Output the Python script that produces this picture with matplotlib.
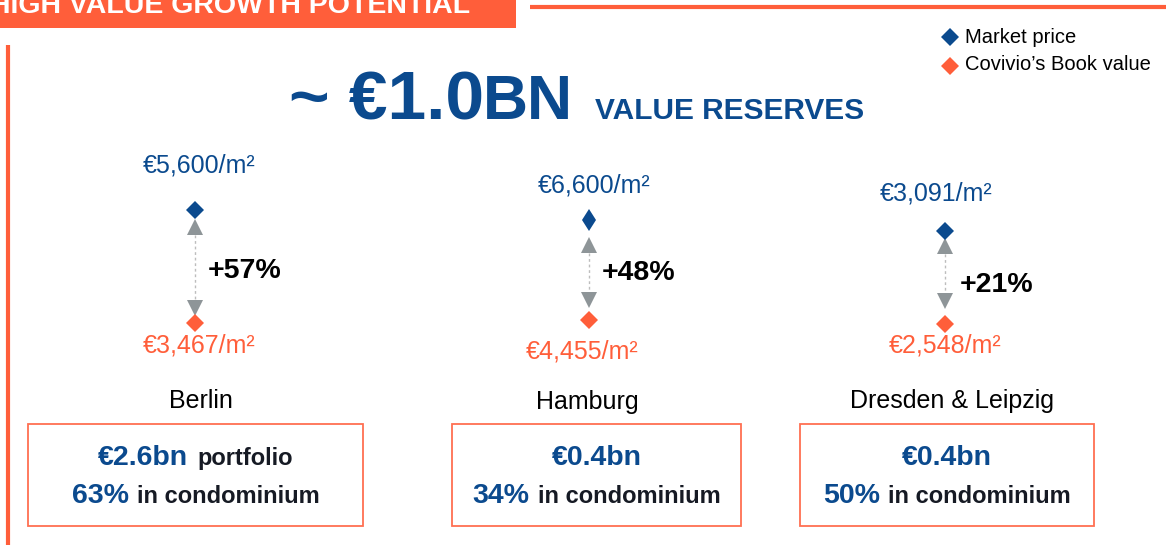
import matplotlib
matplotlib.use("Agg")
import matplotlib.pyplot as plt
from matplotlib.patches import Rectangle

plt.rcParams['font.family'] = ['Liberation Sans', 'DejaVu Sans']

# data
cities = ["Berlin", "Hamburg", "Dresden & Leipzig"]
market_price = [5600, 6600, 3091]      # EUR/m2
book_value = [3467, 4455, 2548]        # EUR/m2
uplift = [57, 48, 21]                  # %
portfolio_bn = [2.6, 0.4, 0.4]
condo_share = [63, 34, 50]             # %
value_reserve_bn = 1.0

# colours
BLUE = '#0B4A8E'
ORANGE = '#FF5E3A'
GREY = '#8E9598'
DARK = '#161A24'

# layout (pixels, y down)
mark_x = [195, 589, 945]
mp_y = [210, 220, 231]           # market price marker
bv_y = [323, 320, 324]           # book value marker
up_y = [227, 244.5, 245.5]       # up triangle
dn_y = [307.5, 299.5, 300.5]     # down triangle
mp_lbl = [(199, 173), (594, 193), (936, 200)]
bv_lbl = [(199, 353), (582, 359), (945, 352)]
pct_lbl = [(208, 278), (602, 280), (960, 292)]
city_lbl = [(201, 408), (587, 409), (952, 408)]
boxes = [(28, 363), (452, 741), (800, 1094)]
box_top, box_bot = 424, 526

fig = plt.figure(figsize=(11.66, 5.45), dpi=100)
ax = fig.add_axes([0, 0, 1, 1])
ax.set_xlim(0, 1166)
ax.set_ylim(545, 0)
ax.axis('off')

# header band
ax.add_patch(Rectangle((0, 0), 516, 28, color=ORANGE, lw=0))
ax.text(470, 13, "HIGH VALUE GROWTH POTENTIAL", fontsize=20.5, fontweight='bold',
        color='white', ha='right', va='baseline')
ax.plot([530, 1166], [7, 7], color=ORANGE, lw=3, solid_capstyle='butt')
ax.plot([7.5, 7.5], [45, 545], color=ORANGE, lw=3, solid_capstyle='butt')

# legend
ax.plot(950, 37, marker='D', ms=9, color=BLUE, mew=0)
ax.plot(950, 66, marker='D', ms=9, color=ORANGE, mew=0)
ax.text(965, 43, "Market price", fontsize=14.5, color='black', va='baseline')
ax.text(965, 70, "Covivio\u2019s Book value", fontsize=14.5, color='black', va='baseline')

# headline
ax.text(289, 119, "~ \u20ac%.1f" % value_reserve_bn, fontsize=50, fontweight='bold',
        color=BLUE, va='baseline')
ax.text(483, 119, "BN", fontsize=45, fontweight='bold', color=BLUE, va='baseline')
ax.text(595, 119, "VALUE RESERVES", fontsize=21.5, fontweight='bold', color=BLUE, va='baseline')

# market vs book value per city
for i in range(len(cities)):
    x = mark_x[i]
    ax.plot([x, x], [up_y[i] + 8, dn_y[i] - 8], color='#BDBDBD', lw=1,
            linestyle=(0, (2, 2)))
    ax.plot(x, up_y[i], marker='^', ms=12, color=GREY, mew=0)
    ax.plot(x, dn_y[i], marker='v', ms=12, color=GREY, mew=0)
    if i == 1:
        ax.plot(x, mp_y[i], marker='d', ms=11.5, color=BLUE, mew=0)
    else:
        ax.plot(x, mp_y[i], marker='D', ms=9, color=BLUE, mew=0)
    ax.plot(x, bv_y[i], marker='D', ms=9, color=ORANGE, mew=0)

    ax.text(mp_lbl[i][0], mp_lbl[i][1], "\u20ac{:,}/m\u00b2".format(market_price[i]),
            fontsize=18, color=BLUE, ha='center', va='baseline')
    ax.text(bv_lbl[i][0], bv_lbl[i][1], "\u20ac{:,}/m\u00b2".format(book_value[i]),
            fontsize=18, color=ORANGE, ha='center', va='baseline')
    ax.text(pct_lbl[i][0], pct_lbl[i][1], "+%d%%" % uplift[i], fontsize=20.5,
            fontweight='bold', color='black', ha='left', va='baseline')
    ax.text(city_lbl[i][0], city_lbl[i][1], cities[i], fontsize=18, color='black',
            ha='center', va='baseline')

    x0, x1 = boxes[i]
    ax.add_patch(Rectangle((x0, box_top), x1 - x0, box_bot - box_top, fill=False,
                           edgecolor='#FF6F52', lw=1.3))

renderer = fig.canvas.get_renderer()


def mixed_line(cx, y, parts, gap=8):
    # parts: list of (text, fontsize, colour), centred as one line
    texts = [ax.text(0, y, s, fontsize=fs, color=c, fontweight='bold', ha='left',
                     va='baseline') for s, fs, c in parts]
    widths = [t.get_window_extent(renderer).width for t in texts]
    xpos = cx - (sum(widths) + gap * (len(texts) - 1)) / 2
    for t, w in zip(texts, widths):
        t.set_x(xpos)
        xpos += w + gap


for i in range(len(cities)):
    cx = (boxes[i][0] + boxes[i][1]) / 2
    first = [("\u20ac%.1fbn" % portfolio_bn[i], 20.5, BLUE)]
    if i == 0:
        first.append(("portfolio", 17, DARK))
    mixed_line(cx, 465, first, gap=10)
    mixed_line(cx, 503, [("%d%%" % condo_share[i], 20.5, BLUE),
                         ("in condominium", 17, DARK)])

fig.savefig("out.png", dpi=100)
